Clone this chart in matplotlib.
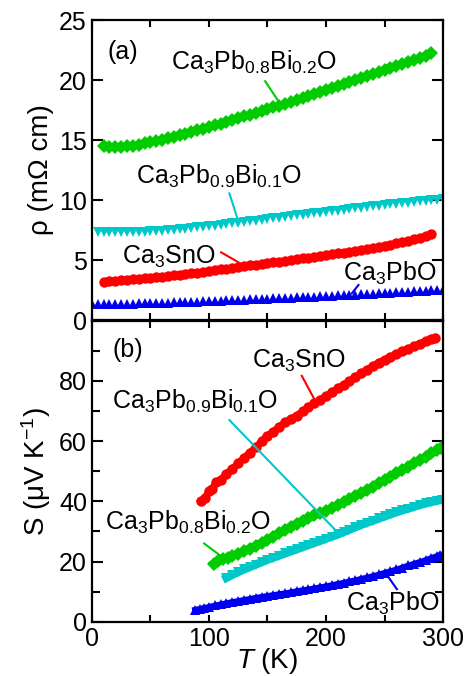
import numpy as np
import matplotlib
matplotlib.use('Agg')
import matplotlib.pyplot as plt
from matplotlib.ticker import MultipleLocator

plt.rcParams['font.family'] = ['Liberation Sans', 'DejaVu Sans']
plt.rcParams['mathtext.fontset'] = 'custom'
plt.rcParams['mathtext.rm'] = 'Liberation Sans'
plt.rcParams['mathtext.it'] = 'Liberation Sans:italic'
plt.rcParams['mathtext.default'] = 'regular'

# ---- (a) resistivity, rho (mOhm cm) ----
T_rho_bi02 = np.arange(10, 295, 5)
rho_bi02 = [14.50, 14.45, 14.43, 14.44, 14.48, 14.54, 14.62, 14.71, 14.81, 14.92,
            15.03, 15.15, 15.27, 15.40, 15.53, 15.66, 15.80, 15.94, 16.08, 16.22,
            16.37, 16.51, 16.66, 16.81, 16.96, 17.11, 17.26, 17.41, 17.56, 17.71,
            17.87, 18.02, 18.18, 18.34, 18.50, 18.66, 18.82, 18.98, 19.14, 19.31,
            19.47, 19.64, 19.81, 19.98, 20.15, 20.32, 20.48, 20.64, 20.81, 20.98,
            21.15, 21.32, 21.50, 21.68, 21.86, 22.04, 22.22]

T_rho_bi01 = np.arange(5, 305, 5)
rho_bi01 = [7.35, 7.33, 7.31, 7.30, 7.30, 7.30, 7.31, 7.33, 7.35, 7.38,
            7.41, 7.45, 7.49, 7.53, 7.57, 7.62, 7.67, 7.72, 7.77, 7.82,
            7.87, 7.93, 7.99, 8.05, 8.11, 8.17, 8.23, 8.29, 8.35, 8.41,
            8.47, 8.53, 8.59, 8.65, 8.71, 8.77, 8.83, 8.89, 8.95, 9.01,
            9.07, 9.12, 9.18, 9.24, 9.30, 9.36, 9.41, 9.47, 9.53, 9.58,
            9.64, 9.69, 9.74, 9.79, 9.84, 9.89, 9.94, 9.98, 10.02, 10.06]

T_rho_sn = np.arange(10, 295, 5)
rho_sn = [3.20, 3.23, 3.26, 3.30, 3.34, 3.38, 3.42, 3.46, 3.51, 3.56,
          3.61, 3.66, 3.71, 3.77, 3.83, 3.89, 3.95, 4.01, 4.08, 4.15,
          4.22, 4.29, 4.36, 4.43, 4.50, 4.56, 4.62, 4.68, 4.74, 4.80,
          4.87, 4.93, 5.00, 5.06, 5.13, 5.20, 5.27, 5.34, 5.41, 5.48,
          5.55, 5.62, 5.70, 5.77, 5.85, 5.93, 6.01, 6.10, 6.19, 6.28,
          6.38, 6.48, 6.60, 6.72, 6.85, 7.00, 7.15]

T_rho_pb = np.arange(0, 305, 5)
rho_pb = [1.30, 1.31, 1.31, 1.32, 1.33, 1.34, 1.35, 1.36, 1.38, 1.39,
          1.41, 1.42, 1.44, 1.45, 1.47, 1.49, 1.51, 1.52, 1.54, 1.56,
          1.58, 1.60, 1.62, 1.64, 1.66, 1.68, 1.70, 1.72, 1.74, 1.76,
          1.78, 1.80, 1.82, 1.84, 1.86, 1.88, 1.90, 1.93, 1.95, 1.97,
          2.00, 2.02, 2.05, 2.07, 2.10, 2.12, 2.15, 2.17, 2.20, 2.23,
          2.25, 2.28, 2.31, 2.34, 2.37, 2.39, 2.42, 2.45, 2.48, 2.51, 2.54]

# ---- (b) thermopower, S (uV/K) ----
T_S_sn = [93, 97, 100, 103, 106, 110, 115, 120, 125, 130, 135, 140, 145, 150,
          155, 160, 165, 170, 175, 180, 185, 190, 195, 200, 205, 210, 215, 220,
          225, 230, 235, 240, 245, 250, 255, 260, 265, 270, 275, 280, 285, 290, 293]
S_sn = [40.0, 41.2, 43.5, 44.0, 46.5, 47.2, 49.2, 50.8, 52.6, 54.5, 56.2, 58.0,
        59.9, 61.8, 63.2, 64.8, 66.2, 67.3, 68.5, 69.9, 71.2, 72.6, 73.8, 75.0,
        76.3, 77.5, 78.7, 80.0, 81.2, 82.5, 83.7, 85.0, 86.1, 87.1, 88.0, 88.9,
        89.8, 90.6, 91.5, 92.4, 93.2, 93.8, 94.3]

T_S_bi02 = [104, 108, 112, 116, 120, 125, 130, 135, 140, 145, 150, 155, 160, 165,
            170, 175, 180, 185, 190, 195, 200, 205, 210, 215, 220, 225, 230, 235,
            240, 245, 250, 255, 260, 265, 270, 275, 280, 285, 290, 295, 298]
S_bi02 = [19.2, 20.2, 20.8, 21.3, 21.9, 22.6, 23.4, 24.3, 25.2, 26.2, 27.2, 28.3,
          29.4, 30.5, 31.6, 32.6, 33.6, 34.5, 35.3, 36.1, 36.9, 37.8, 38.8, 39.8,
          40.8, 41.8, 42.8, 43.8, 44.9, 46.0, 47.1, 48.2, 49.3, 50.4, 51.5, 52.6,
          53.7, 54.8, 55.9, 57.0, 57.6]

T_S_bi01 = [115, 120, 125, 130, 135, 140, 145, 150, 155, 160, 165, 170, 175, 180,
            185, 190, 195, 200, 205, 210, 215, 220, 225, 230, 235, 240, 245, 250,
            255, 260, 265, 270, 275, 280, 285, 290, 295, 299]
S_bi01 = [14.6, 15.6, 16.5, 17.4, 18.2, 19.0, 19.8, 20.6, 21.3, 22.0, 22.7, 23.4,
          24.1, 24.8, 25.5, 26.2, 26.9, 27.6, 28.3, 29.0, 29.8, 30.6, 31.4, 32.2,
          32.9, 33.6, 34.3, 35.0, 35.7, 36.4, 37.0, 37.6, 38.2, 38.8, 39.3, 39.8,
          40.2, 40.6]

T_S_pb = [88, 92, 96, 100, 105, 110, 115, 120, 125, 130, 135, 140, 145, 150, 155,
          160, 165, 170, 175, 180, 185, 190, 195, 200, 205, 210, 215, 220, 225,
          230, 235, 240, 245, 250, 255, 260, 265, 270, 275, 280, 285, 290, 295, 297]
S_pb = [4.0, 4.3, 4.6, 5.0, 5.4, 5.8, 6.2, 6.6, 6.9, 7.3, 7.6, 8.0, 8.3, 8.6, 8.9,
        9.2, 9.5, 9.8, 10.2, 10.5, 10.8, 11.1, 11.5, 11.8, 12.2, 12.6, 13.0, 13.4,
        13.8, 14.3, 14.7, 15.2, 15.7, 16.3, 16.8, 17.4, 18.0, 18.7, 19.3, 19.9,
        20.5, 21.2, 21.9, 22.2]

lbl_bi02 = r'Ca$_3$Pb$_{0.8}$Bi$_{0.2}$O'
lbl_bi01 = r'Ca$_3$Pb$_{0.9}$Bi$_{0.1}$O'
lbl_sn = r'Ca$_3$SnO'
lbl_pb = r'Ca$_3$PbO'

green = '#00cc00'
cyan = '#00c8c8'
red = '#ff0000'
blue = '#0000ee'

fs = 18      # annotations
fs_tick = 18
fs_lab = 20

fig = plt.figure(figsize=(4.66, 6.76), dpi=100)
ax1 = fig.add_axes([0.197, 0.5266, 0.754, 0.4438])
ax2 = fig.add_axes([0.197, 0.0803, 0.754, 0.4452])

# panel (a)
ax1.plot(T_rho_bi02, rho_bi02, 'D', color=green, ms=7, mew=0)
ax1.plot(T_rho_bi01, rho_bi01, 'v', color=cyan, ms=7, mew=0)
ax1.plot(T_rho_sn, rho_sn, 'o', color=red, ms=7.5, mew=0)
ax1.plot(T_rho_pb, rho_pb, '^', color=blue, ms=7, mew=0)

ax1.text(26.7, 22.3, '(a)', fontsize=fs, ha='center', va='center')
ax1.text(139, 21.5, lbl_bi02, fontsize=fs, ha='center', va='center')
ax1.plot([148, 162.3], [19.9, 17.8], color=green, lw=1.5)
ax1.text(109, 11.95, lbl_bi01, fontsize=fs, ha='center', va='center')
ax1.plot([117.5, 125.2], [10.55, 8.2], color=cyan, lw=1.5)
ax1.text(66, 5.28, lbl_sn, fontsize=fs, ha='center', va='center')
ax1.plot([110.4, 131.8], [5.64, 4.44], color=red, lw=1.5)
ax1.text(254, 3.9, lbl_pb, fontsize=fs, ha='center', va='center')
ax1.plot([227.7, 222], [2.92, 2.22], color=blue, lw=1.5)

ax1.set_xlim(0, 300)
ax1.set_ylim(0, 25)
ax1.xaxis.set_major_locator(MultipleLocator(50))
ax1.yaxis.set_major_locator(MultipleLocator(5))
ax1.tick_params(axis='x', labelbottom=False)
ax1.set_ylabel('ρ (mΩ cm)', fontsize=fs_lab, labelpad=4)

# panel (b) - dense data, drawn as marker bands
ax2.plot(T_S_sn, S_sn, 'o-', color=red, ms=7.5, mew=0, lw=5)
ax2.plot(T_S_bi02, S_bi02, 'D-', color=green, ms=7, mew=0, lw=6)
ax2.plot(T_S_bi01, S_bi01, 'v-', color=cyan, ms=7.5, mew=0, lw=6)
ax2.plot(T_S_pb, S_pb, '^-', color=blue, ms=7, mew=0, lw=4)

ax2.text(30.7, 90.3, '(b)', fontsize=fs, ha='center', va='center')
ax2.text(177, 86.7, lbl_sn, fontsize=fs, ha='center', va='center')
ax2.plot([179.3, 191.6], [81.7, 72.8], color=red, lw=1.5)
ax2.text(88.2, 73.1, lbl_bi01, fontsize=fs, ha='center', va='center')
ax2.plot([117.5, 210.6], [67, 29.4], color=cyan, lw=1.5)
ax2.text(82.5, 33.0, lbl_bi02, fontsize=fs, ha='center', va='center')
ax2.plot([95.9, 111], [26.0, 21.6], color=green, lw=1.5)
ax2.text(256.9, 6.1, lbl_pb, fontsize=fs, ha='center', va='center')
ax2.plot([260.5, 252], [10.8, 15.5], color=blue, lw=1.5)

ax2.set_xlim(0, 300)
ax2.set_ylim(0, 100)
ax2.xaxis.set_major_locator(MultipleLocator(100))
ax2.xaxis.set_minor_locator(MultipleLocator(50))
ax2.yaxis.set_minor_locator(MultipleLocator(10))
ax2.set_yticks([0, 20, 40, 60, 80])
ax2.set_xlabel(r'$\mathit{T}$ (K)', fontsize=fs_lab, labelpad=-3)
ax2.set_ylabel(r'S ($\mu$V K$^{-1}$)', fontsize=fs_lab, labelpad=4)

for ax in (ax1, ax2):
    for sp in ax.spines.values():
        sp.set_linewidth(1.6)
    ax.tick_params(which='both', direction='in', top=True, right=True,
                   width=1.5, labelsize=fs_tick)
    ax.tick_params(axis='y', which='major', length=8)
    ax.tick_params(axis='y', which='minor', length=6)
    ax.tick_params(axis='x', which='both', length=5)

fig.savefig('out.png', dpi=100)
